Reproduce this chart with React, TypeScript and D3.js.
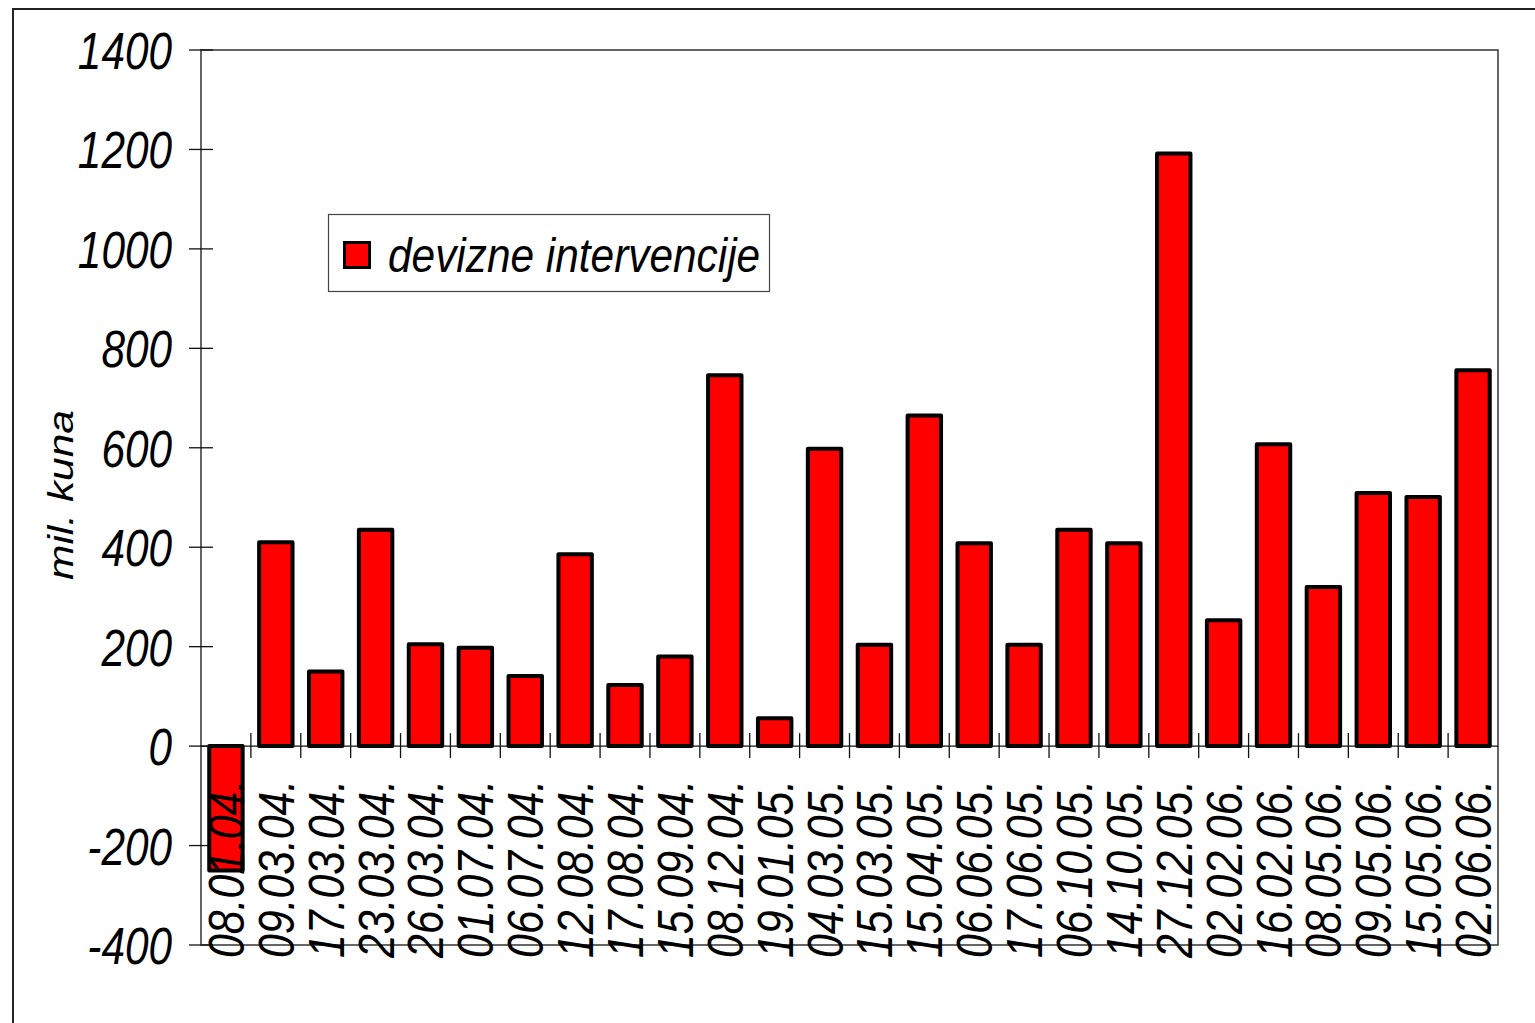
import React from "react";
import * as d3 from "d3";

const categories: string[] = [
  "08.01.04.", "09.03.04.", "17.03.04.", "23.03.04.", "26.03.04.", "01.07.04.",
  "06.07.04.", "12.08.04.", "17.08.04.", "15.09.04.", "08.12.04.", "19.01.05.",
  "04.03.05.", "15.03.05.", "15.04.05.", "06.06.05.", "17.06.05.", "06.10.05.",
  "14.10.05.", "27.12.05.", "02.02.06.", "16.02.06.", "08.05.06.", "09.05.06.",
  "15.05.06.", "02.06.06.",
];
const values: number[] = [
  -250, 410, 150, 435, 205, 198,
  141, 386, 123, 180, 746, 56,
  598, 204, 665, 408, 204, 435,
  408, 1192, 253, 607, 320, 509,
  501, 756,
];
const yTicks: number[] = [-400, -200, 0, 200, 400, 600, 800, 1000, 1200, 1400];
const seriesName = "devizne intervencije";
const yTitle = "mil. kuna";

const FONT = "'Liberation Sans', Arial, sans-serif";

export default function App() {
  const W = 1535, H = 1023;
  const left = 201, right = 1498, top = 50, bottom = 945;
  const y = d3.scaleLinear().domain([-400, 1400]).range([bottom, top]);
  const x = d3.scaleBand<string>().domain(categories).range([left, right]).paddingInner(0.33).paddingOuter(0.165);
  const step = x.step();
  const y0 = y(0);

  return (
    <svg width={W} height={H} style={{ position: "absolute", left: 0, top: 0, background: "#fff" }}>
      <rect x={0} y={0} width={W} height={H} fill="#fff" />
      {/* outer chart border */}
      <rect x={13} y={9} width={1700} height={1200} fill="none" stroke="#222" strokeWidth={2} />
      {/* plot frame */}
      <rect x={left} y={top} width={right - left} height={bottom - top} fill="none" stroke="#333" strokeWidth={1.5} />
      {/* y ticks */}
      {yTicks.map((t) => (
        <g key={t}>
          <line x1={189} x2={213} y1={y(t)} y2={y(t)} stroke="#111" strokeWidth={1.3} />
          <text transform={`translate(172,${y(t) + 19}) scale(0.83,1)`} textAnchor="end" fontFamily={FONT} fontStyle="italic" fontSize={51} fill="#000">
            {t}
          </text>
        </g>
      ))}
      {/* bars */}
      {categories.map((c, i) => {
        const v = values[i];
        const yTop = y(Math.max(0, v));
        const h = Math.abs(y(v) - y0);
        return (
          <rect key={c} x={x(c)} y={yTop} width={x.bandwidth()} height={h} fill="#ff0000" stroke="#000" strokeWidth={4} strokeLinejoin="round" />
        );
      })}
      {/* zero line */}
      <line x1={left} x2={right} y1={y0} y2={y0} stroke="#111" strokeWidth={1.3} />
      {/* x ticks at category boundaries */}
      {categories.slice(1).map((c) => {
        const bx = (x(c) as number) - (step - x.bandwidth()) / 2;
        return <line key={"t" + c} x1={bx} x2={bx} y1={y0 - 13} y2={y0 + 12} stroke="#111" strokeWidth={1.3} />;
      })}
      {/* x labels */}
      {categories.map((c) => {
        const cx = (x(c) as number) + x.bandwidth() / 2;
        return (
          <text key={"l" + c} transform={`translate(${cx + 18},958) rotate(-90) scale(0.855,1)`} fontFamily={FONT} fontStyle="italic" fontSize={50} fill="#000">
            {c}
          </text>
        );
      })}
      {/* y title */}
      <text transform={`translate(73,495) rotate(-90) scale(1.18,1)`} textAnchor="middle" fontFamily={FONT} fontStyle="italic" fontSize={36} fill="#000">
        {yTitle}
      </text>
      {/* legend */}
      <rect x={328.5} y={214.5} width={441} height={77} fill="#fff" stroke="#444" strokeWidth={1.2} />
      <rect x={344.5} y={242.5} width={25} height={25} fill="#ff0000" stroke="#000" strokeWidth={3} />
      <text transform="translate(388,272) scale(0.883,1)" fontFamily={FONT} fontStyle="italic" fontSize={48} fill="#000">
        {seriesName}
      </text>
    </svg>
  );
}
